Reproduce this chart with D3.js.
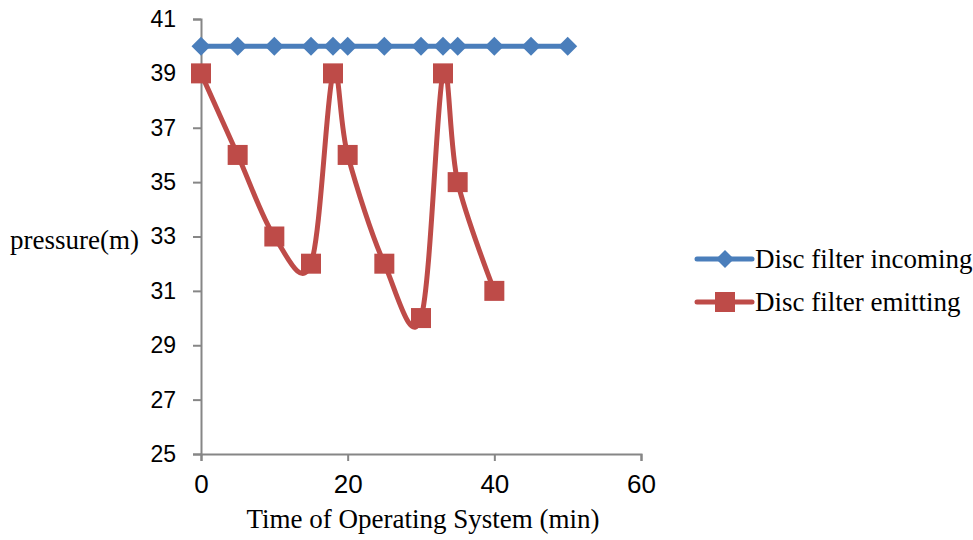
<!DOCTYPE html>
<html><head><meta charset="utf-8">
<script src="https://cdn.jsdelivr.net/npm/d3@7"></script>
<style>body{margin:0;background:#fff;}svg{display:block;}</style>
</head><body>
<script>
const timeIncoming = [0,5,10,15,18,20,25,30,33,35,40,45,50];
const pressureIncoming = [40,40,40,40,40,40,40,40,40,40,40,40,40];
const timeEmitting = [0,5,10,15,18,20,25,30,33,35,40];
const pressureEmitting = [39,36,33,32,39,36,32,30,39,35,31];
const xTicks = [0,20,40,60];
const yTicks = [25,27,29,31,33,35,37,39,41];
const seriesNames = ["Disc filter incoming","Disc filter emitting"];

const W=973,H=540;
const svg=d3.select("body").append("svg").attr("width",W).attr("height",H);
const x=d3.scaleLinear().domain([0,60]).range([201,641]);
const y=d3.scaleLinear().domain([25,41]).range([454,19]);
const axisColor="#868686";
const sans="'Liberation Sans',Arial,sans-serif";
const serif="'Liberation Serif','Times New Roman',serif";

const yAxis=svg.append("g").attr("transform","translate(201,0)")
  .call(d3.axisLeft(y).tickValues(yTicks).tickSize(8).tickPadding(17).tickFormat(d3.format("d")));
const xAxis=svg.append("g").attr("transform","translate(0,454)")
  .call(d3.axisBottom(x).tickValues(xTicks).tickSize(7).tickPadding(14).tickFormat(d3.format("d")));
[yAxis,xAxis].forEach(g=>{
  g.selectAll("path,line").attr("stroke",axisColor).attr("stroke-width",2);
  g.selectAll("text").attr("fill","#000").style("font-family",sans);
});
yAxis.selectAll("text").style("font-size","23px");
xAxis.selectAll("text").style("font-size","26px");

svg.append("text").attr("x",423).attr("y",528).attr("text-anchor","middle")
  .style("font-family",serif).style("font-size","27px").text("Time of Operating System (min)");
svg.append("text").attr("x",10).attr("y",249)
  .style("font-family",serif).style("font-size","27px").text("pressure(m)");

const blue="#4A7EBB", red="#BE4B48";
const incoming=timeIncoming.map((t,i)=>[t,pressureIncoming[i]]);
const emitting=timeEmitting.map((t,i)=>[t,pressureEmitting[i]]);

svg.append("path").datum(incoming).attr("d",d3.line().x(d=>x(d[0])).y(d=>y(d[1]))).attr("fill","none").attr("stroke",blue).attr("stroke-width",5);
svg.append("path").datum(emitting).attr("d",d3.line().x(d=>x(d[0])).y(d=>y(d[1])).curve(d3.curveCardinal.tension(0))).attr("fill","none").attr("stroke",red).attr("stroke-width",5);

function diamondPath(cx,cy,r){return `M${cx},${cy-r}L${cx+r},${cy}L${cx},${cy+r}L${cx-r},${cy}Z`;}
svg.selectAll(".dm").data(incoming).join("path").attr("d",d=>diamondPath(x(d[0]),y(d[1]),9.5)).attr("fill",blue);
svg.selectAll(".sq").data(emitting).join("rect").attr("x",d=>x(d[0])-10).attr("y",d=>y(d[1])-10).attr("width",20).attr("height",20).attr("fill",red);

// legend
const lg=svg.append("g");
[[blue,259,"d"],[red,302,"s"]].forEach(([c,ly,t],i)=>{
  lg.append("line").attr("x1",697).attr("x2",752).attr("y1",ly).attr("y2",ly).attr("stroke",c).attr("stroke-width",5).attr("stroke-linecap","round");
  if(t==="d") lg.append("path").attr("d",diamondPath(725,ly,9)).attr("fill",c);
  else lg.append("rect").attr("x",715).attr("y",ly-10).attr("width",20).attr("height",20).attr("fill",c);
  lg.append("text").attr("x",755).attr("y",ly+9).style("font-family",serif).style("font-size","27px").text(seriesNames[i]);
});
</script>
</body></html>
